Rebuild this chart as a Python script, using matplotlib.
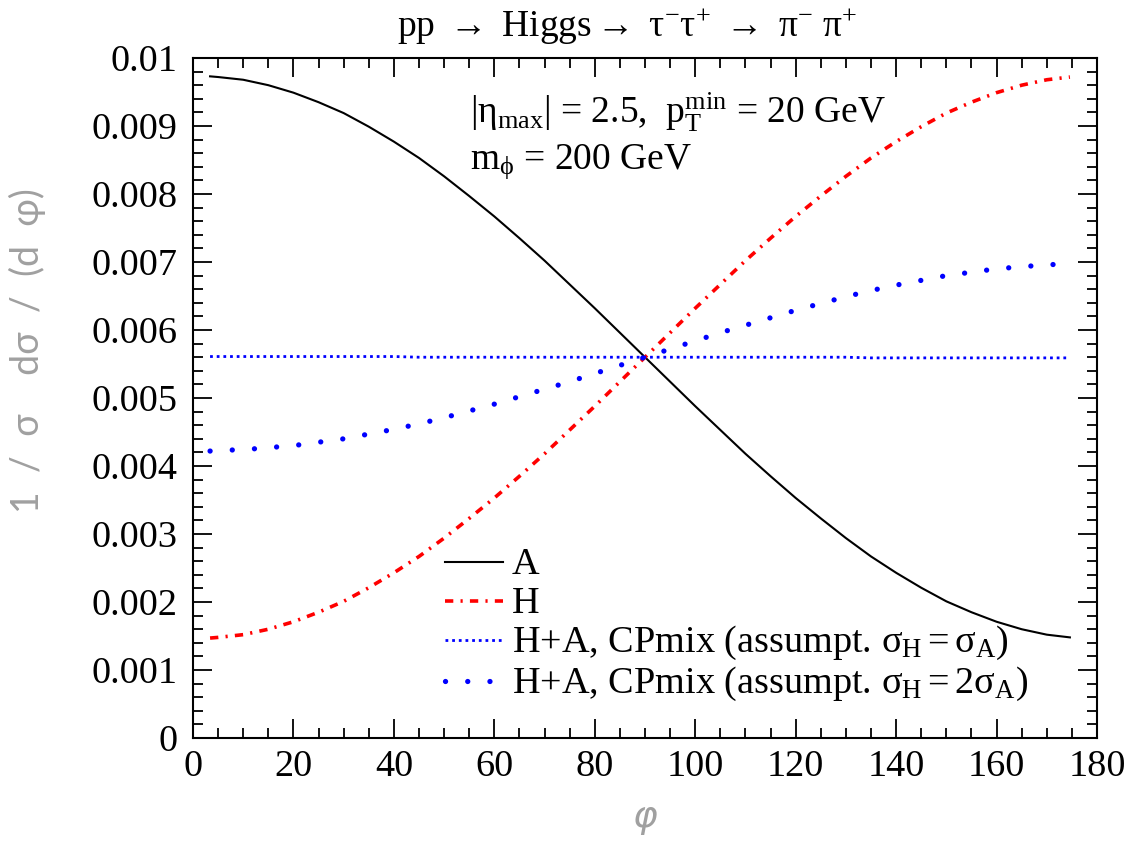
import matplotlib
matplotlib.use("Agg")
import matplotlib.pyplot as plt
from matplotlib.ticker import MultipleLocator

plt.rcParams["font.family"] = ["Liberation Serif", "DejaVu Serif"]
plt.rcParams["mathtext.fontset"] = "custom"
plt.rcParams["mathtext.rm"] = "Liberation Serif"
plt.rcParams["mathtext.it"] = "Liberation Serif:italic"

# phi in degrees, curves
phi = [3.4, 5, 10, 15, 20, 25, 30, 35, 40, 45, 50, 55, 60, 65, 70, 75, 80, 85, 90,
       95, 100, 105, 110, 115, 120, 125, 130, 135, 140, 145, 150, 155, 160, 165,
       170, 174.6]
dist_A = [0.00973, 0.00972, 0.00968, 0.00960, 0.00949, 0.00935, 0.00919, 0.00899,
          0.00877, 0.00853, 0.00826, 0.00797, 0.00767, 0.00735, 0.00702, 0.00667,
          0.00632, 0.00596, 0.00560, 0.00524, 0.00488, 0.00453, 0.00418, 0.00385,
          0.00353, 0.00323, 0.00294, 0.00267, 0.00243, 0.00221, 0.00201, 0.00185,
          0.00171, 0.00160, 0.00152, 0.00148]
dist_H = [0.00147, 0.00148, 0.00152, 0.00160, 0.00171, 0.00185, 0.00201, 0.00221,
          0.00243, 0.00267, 0.00294, 0.00323, 0.00353, 0.00385, 0.00418, 0.00453,
          0.00488, 0.00524, 0.00560, 0.00596, 0.00632, 0.00667, 0.00702, 0.00735,
          0.00767, 0.00797, 0.00826, 0.00853, 0.00877, 0.00899, 0.00919, 0.00935,
          0.00949, 0.00960, 0.00968, 0.00972]
dist_mix1 = [0.00561, 0.00561, 0.00561, 0.00561, 0.00561, 0.00561, 0.00561, 0.00561,
             0.00561, 0.00560, 0.00560, 0.00560, 0.00560, 0.00560, 0.00560, 0.00560,
             0.00560, 0.00560, 0.00560, 0.00560, 0.00560, 0.00560, 0.00560, 0.00560,
             0.00560, 0.00560, 0.00560, 0.00559, 0.00559, 0.00559, 0.00559, 0.00559,
             0.00559, 0.00559, 0.00559, 0.00559]
dist_mix2 = [0.00422, 0.00423, 0.00424, 0.00427, 0.00430, 0.00435, 0.00440, 0.00447,
             0.00454, 0.00462, 0.00471, 0.00481, 0.00491, 0.00502, 0.00513, 0.00524,
             0.00536, 0.00548, 0.00560, 0.00572, 0.00584, 0.00596, 0.00607, 0.00618,
             0.00629, 0.00639, 0.00649, 0.00658, 0.00666, 0.00673, 0.00680, 0.00685,
             0.00690, 0.00693, 0.00696, 0.00697]

labels = ["A", "H",
          r"H+A, CPmix (assumpt. $\mathrm{\sigma_H = \sigma_A}$)",
          r"H+A, CPmix (assumpt. $\mathrm{\sigma_H = 2\sigma_A}$)"]
styles = [dict(color="black", lw=1.5, linestyle="-"),
          dict(color="#ff0000", lw=2.6, linestyle=(0, (2.3, 2.0, 0.6, 2.0))),
          dict(color="#0000ff", lw=2.0, linestyle=(0, (1.0, 1.4))),
          dict(color="#0000ff", lw=3.8, linestyle=(0, (0.01, 4.2)), dash_capstyle="round")]

fig = plt.figure(figsize=(11.24, 8.49), dpi=100)
ax = fig.add_axes([0.1717, 0.1307, 0.8043, 0.801])

for ys, st in zip([dist_A, dist_H, dist_mix1, dist_mix2], styles):
    ax.plot(phi, ys, **st)

ax.set_xlim(0, 180)
ax.set_ylim(0, 0.01)
ax.xaxis.set_major_locator(MultipleLocator(20))
ax.xaxis.set_minor_locator(MultipleLocator(5))
ax.yaxis.set_minor_locator(MultipleLocator(0.0002))
ax.set_yticks([0, 0.001, 0.002, 0.003, 0.004, 0.005, 0.006, 0.007, 0.008, 0.009, 0.01])
ax.set_yticklabels(["0", "0.001", "0.002", "0.003", "0.004", "0.005", "0.006",
                    "0.007", "0.008", "0.009", "0.01"])
ax.tick_params(which="both", direction="in", top=True, right=True, labelsize=27.5,
               width=1.3)
ax.tick_params(axis="y", which="major", length=14, pad=11)
ax.tick_params(axis="y", which="minor", length=7)
ax.tick_params(axis="x", which="major", length=14, pad=8)
ax.tick_params(axis="x", which="minor", length=7)
for s in ax.spines.values():
    s.set_linewidth(1.5)

fig.text(0.558, 0.969, r"pp $\rightarrow$ Higgs$\rightarrow$ $\mathrm{\tau^{-}\tau^{+}}$"
         r" $\rightarrow$ $\mathrm{\pi^{-}\ \pi^{+}}$", ha="center", va="center",
         fontsize=27)

ax.text(0.306, 0.92, r"$|\mathrm{\eta_{max}}|$ = 2.5,  $\mathrm{p_T^{min}}$ = 20 GeV",
        transform=ax.transAxes, fontsize=27, va="center")
ax.text(0.306, 0.848, r"$\mathrm{m_{\phi}}$ = 200 GeV",
        transform=ax.transAxes, fontsize=27, va="center")

ax.set_ylabel("1  /  σ    dσ  /  (d  φ)", family=["Lato", "DejaVu Sans"],
              color="#a0a0a0", fontsize=27)
ax.yaxis.set_label_coords(-0.163, 0.57)
ax.set_xlabel("φ", family="DejaVu Sans", fontstyle="italic", color="#a0a0a0",
              fontsize=27)
ax.xaxis.set_label_coords(0.5, -0.09)

# legend drawn by hand to keep the row spacing of the original
row_y = [0.259, 0.2015, 0.144, 0.084]
for yy, lab, st in zip(row_y, labels, styles):
    ax.plot([0.279, 0.343], [yy, yy], transform=ax.transAxes, **st)
    ax.text(0.353, yy - 0.018, lab, transform=ax.transAxes, fontsize=27.5,
            va="baseline")

fig.savefig("out.png", dpi=100)
